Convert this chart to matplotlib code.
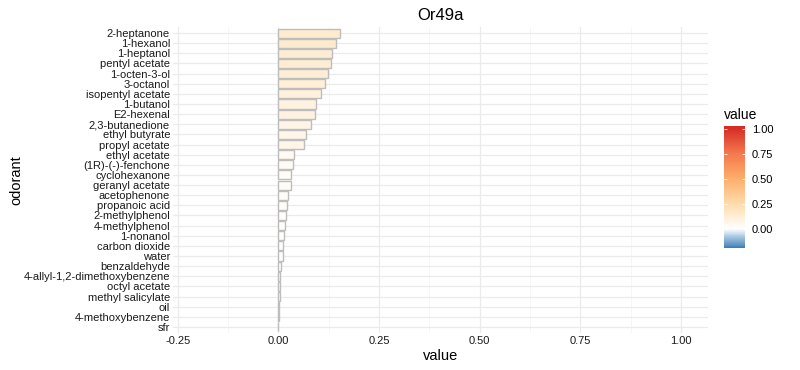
import numpy as np
import matplotlib
matplotlib.use("Agg")
import matplotlib.pyplot as plt
from matplotlib.colors import LinearSegmentedColormap, Normalize
from matplotlib.cm import ScalarMappable

plt.rcParams['font.family'] = ['Liberation Sans', 'DejaVu Sans']

# --- data (top row first) ---
odorants = ["2-heptanone", "1-hexanol", "1-heptanol", "pentyl acetate", "1-octen-3-ol",
            "3-octanol", "isopentyl acetate", "1-butanol", "E2-hexenal", "2,3-butanedione",
            "ethyl butyrate", "propyl acetate", "ethyl acetate", "(1R)-(-)-fenchone",
            "cyclohexanone", "geranyl acetate", "acetophenone", "propanoic acid",
            "2-methylphenol", "4-methylphenol", "1-nonanol", "carbon dioxide", "water",
            "benzaldehyde", "4-allyl-1,2-dimethoxybenzene", "octyl acetate",
            "methyl salicylate", "oil", "4-methoxybenzene", "sfr"]
values = [0.153, 0.143, 0.134, 0.130, 0.124, 0.115, 0.105, 0.094, 0.092, 0.080,
          0.069, 0.064, 0.040, 0.036, 0.031, 0.032, 0.024, 0.022, 0.018, 0.017,
          0.015, 0.012, 0.011, 0.006, 0.005, 0.003, 0.003, 0.002, 0.0005, 0.0]
x_ticks = [-0.25, 0.0, 0.25, 0.50, 0.75, 1.00]
x_ticklabels = ["-0.25", "0.00", "0.25", "0.50", "0.75", "1.00"]
cb_ticks = [0.0, 0.25, 0.5, 0.75, 1.0]

vmin, vmax = -0.19, 1.03
anchors = [(vmin, "#3f7fb8"), (-0.08, "#a9c9e2"), (0.0, "#ffffff"), (0.25, "#fedcaa"),
           (0.5, "#fdae6b"), (0.75, "#f47a4e"), (1.0, "#d73027"), (vmax, "#d42c24")]
cmap = LinearSegmentedColormap.from_list(
    "rb", [((v - vmin) / (vmax - vmin), c) for v, c in anchors])
norm = Normalize(vmin, vmax)

fig = plt.figure(figsize=(8, 3.7), dpi=100)
ax = fig.add_axes([0.216, 0.10, 0.669, 0.827])

y = np.arange(len(odorants))[::-1]
ax.barh(y, values, height=0.9, color=cmap(norm(np.array(values))),
        edgecolor="#bdbdbd", linewidth=1.0, zorder=3)

ax.set_xlim(-0.262, 1.067)
ax.set_ylim(-0.6, len(odorants) - 0.4)
ax.set_yticks(y)
ax.set_yticklabels(odorants, fontsize=8, color="#1a1a1a")
ax.set_xticks(x_ticks)
ax.set_xticklabels(x_ticklabels, fontsize=8, color="#1a1a1a")
ax.set_xticks([-0.125, 0.125, 0.375, 0.625, 0.875], minor=True)
ax.tick_params(length=0, pad=2)
ax.tick_params(which="minor", length=0)
ax.grid(True, which="major", color="#ebebeb", linewidth=0.9, zorder=0)
ax.grid(True, which="minor", axis="x", color="#f3f3f3", linewidth=0.5, zorder=0)
for s in ax.spines.values():
    s.set_visible(False)
ax.set_xlabel("value", fontsize=10.5, labelpad=2)
ax.set_ylabel("odorant", fontsize=10.5, labelpad=0)
ax.set_title("Or49a", fontsize=12, pad=5)

# --- colour legend ---
cax = fig.add_axes([0.905, 0.33, 0.026, 0.33])
cb = fig.colorbar(ScalarMappable(norm=norm, cmap=cmap), cax=cax, ticks=cb_ticks)
cb.outline.set_visible(False)
cax.set_yticklabels(["0.00", "0.25", "0.50", "0.75", "1.00"], fontsize=8)
cax.tick_params(left=True, right=True, direction="in", color="white", length=2.5, width=0.6, pad=5)
fig.text(0.905, 0.67, "value", fontsize=10, ha="left", va="bottom")

fig.savefig("out.png", dpi=100)
